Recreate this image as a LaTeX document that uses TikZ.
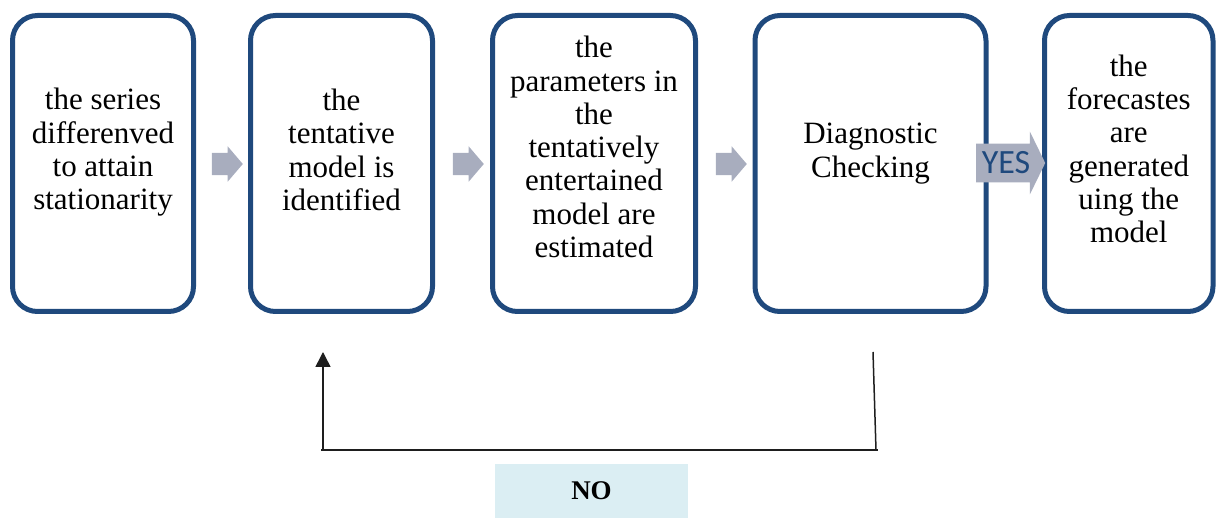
\documentclass[tikz,border=0pt]{standalone}
\usepackage{fontspec}
\setmainfont{Liberation Serif}
\newfontfamily\stagefont{Liberation Serif}
\newfontfamily\yesfont{Carlito}
\usetikzlibrary{shapes.arrows,arrows.meta,positioning}
\definecolor{boxblue}{RGB}{31,73,125}
\definecolor{arrowgray}{RGB}{168,173,190}
\definecolor{nofill}{RGB}{219,238,243}
\definecolor{linegray}{RGB}{30,30,30}
\newcommand{\boxh}{296}
\tikzset{
  stagebox/.style={draw=boxblue, line width=5, rounded corners=25, minimum height=\boxh, inner sep=0},
  stagetext/.style={align=center, inner sep=0, font=\stagefont\fontsize{31}{33.3}\selectfont},
  blockarrow/.style={single arrow, fill=arrowgray, inner xsep=0, inner ysep=11, minimum width=0, minimum height=31,
    single arrow head extend=6.5, single arrow head indent=0, single arrow tip angle=99},
  fbline/.style={draw=linegray, line width=1.5}
}
\begin{document}
\begin{tikzpicture}[x=1pt,y=-1pt]
\useasboundingbox (0,0) rectangle (1219,518);
% stages
\node[stagebox, minimum width=181] (b1) at (103,163.5) {};
\node[stagebox, minimum width=182] (b2) at (341.5,163.5) {};
\node[stagebox, minimum width=203] (b3) at (594,163.5) {};
\node[stagebox, minimum width=231] (b4) at (870.5,163.5) {};
\node[stagebox, minimum width=168.5] (b5) at (1128.75,163.5) {};
\node[stagetext] (t1) at ([yshift=11]b1.center) {the series\\differenved\\to attain\\stationarity};
\node[stagetext] (t2) at ([yshift=13.5]b2.center) {the\\tentative\\model is\\identified};
\node[stagetext] (t3) at ([yshift=16.5]b3.center) {the\\parameters in\\the\\tentatively\\entertained\\model are\\estimated};
\node[stagetext] (t4) at ([yshift=10]b4.center) {Diagnostic\\Checking};
\node[stagetext] (t5) at ([yshift=14.5]b5.center) {the\\forecastes\\are\\generated\\uing the\\model};
% arrows between stages
\node[blockarrow] (a1) at (222.5,164) {};
\node[blockarrow] (a2) at (463.5,164) {};
\node[blockarrow] (a3) at (726.5,164) {};
\node[blockarrow, inner ysep=8, minimum height=69, single arrow head extend=12,
  single arrow tip angle=128, font=\yesfont\fontsize{34}{36}\selectfont, text=boxblue] (yes) at (1006,163) {YES};
% feedback
\coordinate (rtop) at (873,352);
\coordinate (rbot) at (876,450);
\coordinate (hl) at (321,450);
\coordinate (hr) at (878,450);
\coordinate (lbot) at (323,450);
\coordinate (ltop) at (323,352);
\draw[fbline] (rtop) -- (rbot);
\draw[fbline] (hl) -- (hr);
\draw[fbline, -{Triangle[width=15,length=15]}] (lbot) -- (ltop);
\node[fill=nofill, minimum width=193, minimum height=54, inner sep=0, font=\stagefont\fontsize{27}{30}\selectfont\bfseries] (no) at (591.5,491) {NO};
\end{tikzpicture}
\end{document}
